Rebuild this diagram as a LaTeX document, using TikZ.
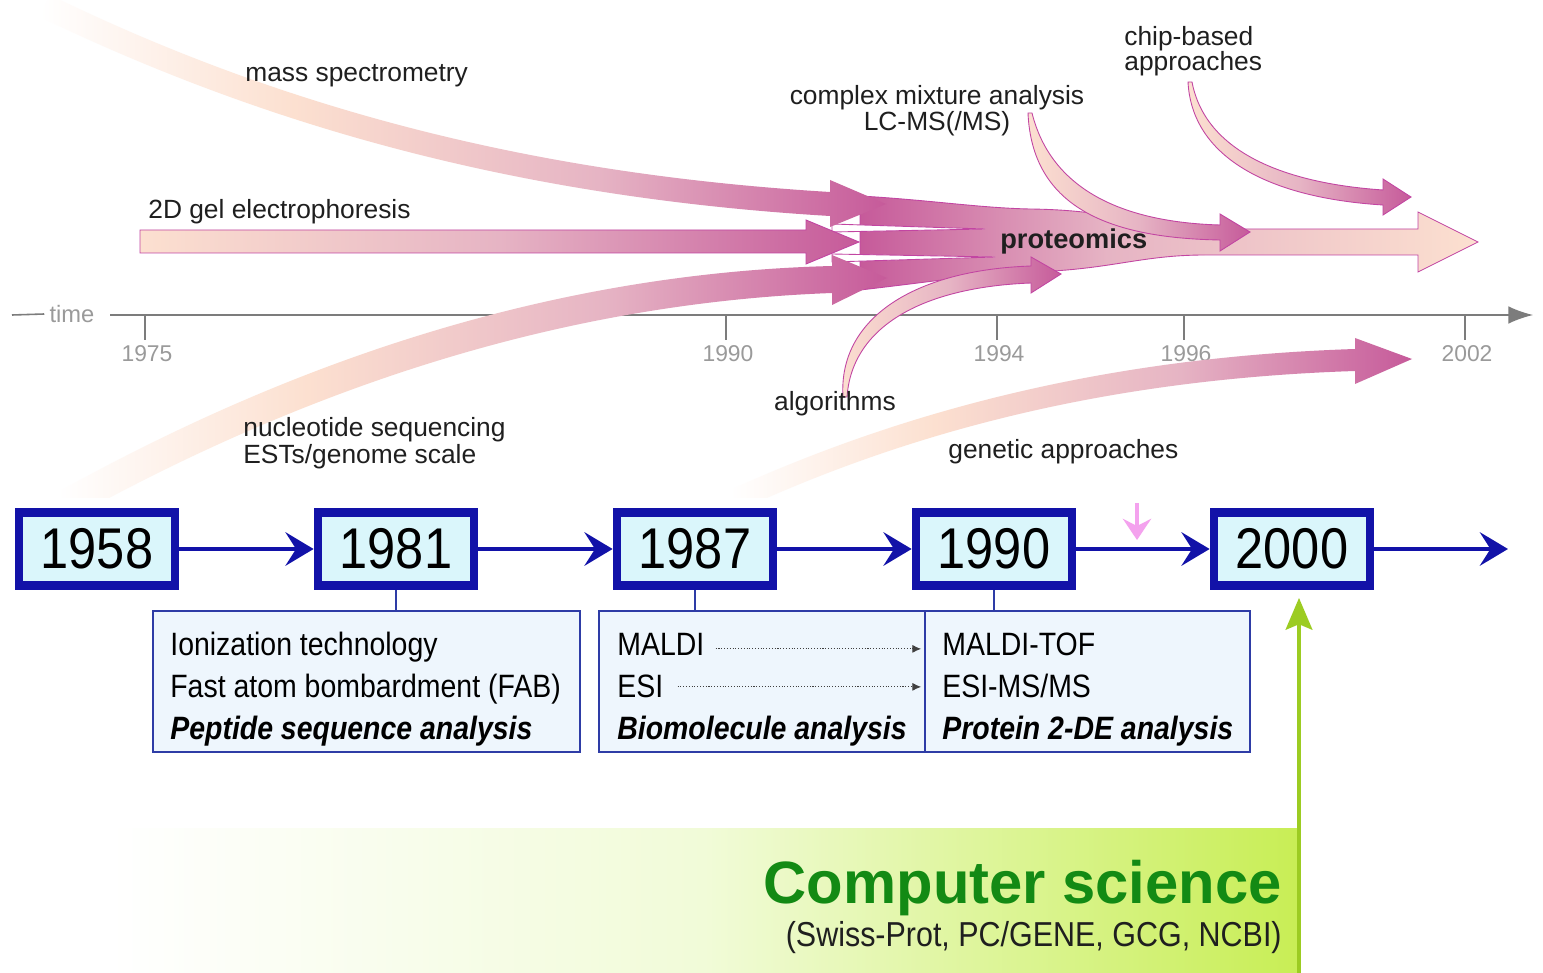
\documentclass[tikz,border=0pt]{standalone}
\usepackage{fontspec}
\setmainfont{Liberation Sans}
\newfontfamily\narrowfont[FakeStretch=0.88]{Liberation Sans}
\usetikzlibrary{arrows.meta}

% palette
\definecolor{peach}{HTML}{FCE0D0}
\definecolor{rosemid}{HTML}{E6B4C4}
\definecolor{mag}{HTML}{C65A9A}
\definecolor{magline}{HTML}{C245A2}
\definecolor{navy}{HTML}{1212A8}
\definecolor{boxcyan}{HTML}{DAF6FB}
\definecolor{infofill}{HTML}{EEF6FD}
\definecolor{infoline}{HTML}{2E3CA6}
\definecolor{axisgray}{HTML}{7C7C7C}
\definecolor{labelgray}{HTML}{9A9A9A}
\definecolor{lime}{HTML}{C8EE55}
\definecolor{palelime}{HTML}{F1FBD8}
\definecolor{limearrow}{HTML}{9CCC22}
\definecolor{csgreen}{HTML}{138A14}
\definecolor{pinkdown}{HTML}{F4A2EE}

% horizontal colour ramps for the bands
\pgfdeclarehorizontalshading{fadein}{100bp}{color(0bp)=(white); color(25bp)=(white); color(40bp)=(peach); color(58bp)=(rosemid); color(75bp)=(mag); color(100bp)=(mag)}
\pgfdeclarehorizontalshading{warmup}{100bp}{color(0bp)=(peach); color(25bp)=(peach); color(50bp)=(rosemid); color(75bp)=(mag); color(100bp)=(mag)}
\pgfdeclarehorizontalshading{cooldown}{100bp}{color(0bp)=(mag); color(25bp)=(mag); color(45bp)=(rosemid); color(75bp)=(peach); color(100bp)=(peach)}
\pgfdeclarehorizontalshading{limefade}{100bp}{color(0bp)=(white); color(25bp)=(white); color(50bp)=(palelime); color(75bp)=(lime); color(100bp)=(lime)}

\tikzset{
  lbl/.style={font=\fontsize{15}{18}\selectfont, text=black!88, inner sep=0pt},
  ticklbl/.style={font=\fontsize{13}{15}\selectfont, text=labelgray, inner sep=0pt},
  axisline/.style={draw=axisgray, line width=0.9pt},
  bandedge/.style={draw=magline, line width=0.5pt},
  yearbox/.style={draw=navy, line width=5pt, fill=boxcyan, minimum width=3.12cm,
    minimum height=1.46cm, inner sep=0pt, font=\narrowfont\fontsize{32.7}{36}\selectfont},
  flow/.style={navy, line width=2.8pt, -{Stealth[length=16pt,width=19pt,inset=6pt]}},
  stem/.style={draw=infoline, line width=0.8pt},
  infobox/.style={draw=infoline, line width=0.9pt, fill=infofill, inner sep=0pt, minimum height=2.82cm},
  infotext/.style={font=\narrowfont\fontsize{18.4}{22}\selectfont, inner sep=0pt, anchor=base west},
  infohead/.style={infotext, font=\narrowfont\bfseries\itshape\fontsize{18.4}{22}\selectfont},
  dotarrow/.style={densely dotted, draw=black!75, line width=0.6pt, -{Latex[length=5pt,width=4.5pt]}},
  growth/.style={draw=limearrow, line width=2.8pt, -{Stealth[length=18pt,width=15pt,inset=3pt]}},
  pinkarrow/.style={draw=pinkdown, line width=2.6pt, -{Stealth[length=12pt,width=16pt,inset=4pt]}},
}

\begin{document}
\begin{tikzpicture}[x=0.02cm, y=-0.02cm]
\useasboundingbox (0,0) rectangle (1543,973);
\fill[white] (0,0) rectangle (1543,973);

% ---------- upper half: converging research streams ----------
\begin{scope}
\clip (0,0) rectangle (1543,497);

% time axis
\coordinate (axisStart) at (12,315);
\coordinate (axisResume) at (110,315);
\coordinate (axisEnd) at (1533,315);
\node[font=\fontsize{13.5}{16}\selectfont, text=labelgray, inner sep=0pt] (timelbl) at (72,314) {time};
\draw[axisline] (axisStart) -- ([xshift=-0.1cm]timelbl.west);
\draw[axisline, -{Latex[length=14pt,width=10pt]}] (axisResume) -- (axisEnd);
\foreach \x/\yr in {145/1975, 726/1990, 997/1994, 1184/1996, 1465/2002}{
  \draw[axisline] (\x,315) -- (\x,340);
  \node[ticklbl] (tick\yr) at (\x+2,354) {\yr};
}

% merged proteomics stream
\shadedraw[shading=cooldown, bandedge]
  (860,196) .. controls (930,200) and (980,208) .. (1030,209)
  .. controls (1120,210) and (1150,229) .. (1205,229) -- (1418,229) -- (1418,212)
  -- (1478,242) -- (1418,272) -- (1418,255) -- (1205,255)
  .. controls (1140,255) and (1110,270) .. (1030,272)
  .. controls (980,274) and (930,282) .. (860,290) -- cycle;
% gaps between the incoming streams
\filldraw[fill=white, bandedge] (832,224) -- (985,229) -- (832,232) -- cycle;
\filldraw[fill=white, bandedge] (832,254) -- (995,257) -- (832,262) -- cycle;

% mass spectrometry
\shade[shading=fadein]
  (50,-5) .. controls (299,116) and (550,175) .. (830,192) -- (830,180) -- (886,204)
  -- (830,227) -- (830,216) .. controls (546,199) and (291,138) .. (40,17) -- cycle;

% nucleotide sequencing
\shade[shading=fadein]
  (58,492) .. controls (299,358) and (557,273) .. (832,266) -- (832,255) -- (887,278)
  -- (832,305) -- (832,293) .. controls (563,303) and (311,386) .. (72,518) -- cycle;

% 2D gel electrophoresis
\shadedraw[shading=warmup, bandedge]
  (140,230) -- (806,230) -- (806,220) -- (859,242) -- (806,264) -- (806,253) -- (140,253) -- cycle;

% complex mixture analysis
\shadedraw[shading=warmup, bandedge]
  (1032,113) .. controls (1050,185) and (1115,222) .. (1220,225) -- (1220,214) -- (1250,232)
  -- (1220,251) -- (1220,240) .. controls (1105,238) and (1032,205) .. (1028,113) -- cycle;

% chip-based approaches
\shadedraw[shading=warmup, bandedge]
  (1192,82) .. controls (1205,150) and (1280,183) .. (1383,190) -- (1383,179) -- (1411,197)
  -- (1383,215) -- (1383,205) .. controls (1270,198) and (1192,158) .. (1188,82) -- cycle;

% algorithms
\shadedraw[shading=warmup, bandedge]
  (843,397) .. controls (838,318) and (915,270) .. (1031,266) -- (1031,257) -- (1061,274)
  -- (1031,293) -- (1031,283) .. controls (925,287) and (852,325) .. (847,397) -- cycle;

% genetic approaches
\shade[shading=fadein]
  (730,490) .. controls (906,410) and (1108,357) .. (1355,349) -- (1355,338) -- (1412,359)
  -- (1355,384) -- (1355,371) .. controls (1111,379) and (914,430) .. (740,510) -- cycle;

% stream labels
\node[lbl, anchor=base west] (ms) at (245,82) {mass spectrometry};
\node[lbl, anchor=base west] (gel) at (148,219) {2D gel electrophoresis};
\node[lbl, anchor=base] (cma) at (937,105) {complex mixture analysis};
\node[lbl, anchor=base] (lcms) at (937,131) {LC-MS(/MS)};
\node[lbl, anchor=base west] (chip) at (1124,46) {chip-based};
\node[lbl, anchor=base west] (chipb) at (1124,71) {approaches};
\node[lbl, anchor=base west] (nuc) at (243,437) {nucleotide sequencing};
\node[lbl, anchor=base west] (est) at (243,463) {ESTs/genome scale};
\node[lbl, anchor=base] (algo) at (835,411) {algorithms};
\node[lbl, anchor=base west] (gen) at (948,459) {genetic approaches};
\node[lbl, anchor=base west, font=\bfseries\fontsize{15.5}{18}\selectfont] (prot) at (1000,249) {proteomics};
\end{scope}

% ---------- lower half: milestones ----------
\shade[shading=limefade] (110,828) rectangle (1299,973);

\node[yearbox] (y1958) at (97,549) {1958};
\node[yearbox] (y1981) at (396,549) {1981};
\node[yearbox] (y1987) at (695,549) {1987};
\node[yearbox] (y1990) at (994,549) {1990};
\node[yearbox] (y2000) at (1292,549) {2000};
\coordinate (flowend) at (1508,549);

\draw[flow] (y1958) -- (y1981);
\draw[flow] (y1981) -- (y1987);
\draw[flow] (y1987) -- (y1990);
\draw[flow] (y1990) -- (y2000);
\draw[flow] (y2000) -- (flowend);

\coordinate (pinkstart) at (1137,503);
\coordinate (pinkend) at (1137,540);
\draw[pinkarrow] (pinkstart) -- (pinkend);

\node[infobox, minimum width=8.54cm] (box1) at (366.5,681.5) {};
\node[infobox, minimum width=6.52cm] (box2) at (762,681.5) {};
\node[infobox, minimum width=6.50cm] (box3) at (1087.5,681.5) {};

\draw[stem] (y1981.south) -- (y1981.south |- box1.north);
\draw[stem] (y1987.south) -- (y1987.south |- box2.north);
\draw[stem] (y1990.south) -- (y1990.south |- box3.north);

\node[infotext] (ion) at (170,655) {Ionization technology};
\node[infotext] (fab) at (170,697) {Fast atom bombardment (FAB)};
\node[infohead] (pep) at (170,739) {Peptide sequence analysis};
\node[infotext] (maldi) at (617,655) {MALDI};
\node[infotext] (esi) at (617,697) {ESI};
\node[infohead] (bio) at (617,739) {Biomolecule analysis};
\node[infotext] (maldtof) at (942,655) {MALDI-TOF};
\node[infotext] (esims) at (942,697) {ESI-MS/MS};
\node[infohead] (prot2de) at (942,739) {Protein 2-DE analysis};

\draw[dotarrow] ([xshift=0.22cm,yshift=-0.1cm]maldi.east) -- ([xshift=-0.06cm,yshift=-0.1cm]maldi.east -| box3.west);
\draw[dotarrow] ([xshift=0.28cm,yshift=-0.02cm]esi.east) -- ([xshift=-0.06cm,yshift=-0.02cm]esi.east -| box3.west);

% computer science feed
\coordinate (csfoot) at (1299,973);
\draw[growth, shorten >=0.16cm] (csfoot) -- (csfoot |- y2000.south);
\node[anchor=base east, inner sep=0pt, text=csgreen, font=\bfseries\fontsize{34}{40}\selectfont] (cs) at (1282,903) {Computer science};
\node[anchor=base east, inner sep=0pt, text=black!88, font=\narrowfont\fontsize{19.7}{24}\selectfont] (csdb) at (1282,946) {(Swiss-Prot, PC/GENE, GCG, NCBI)};
\end{tikzpicture}
\end{document}
